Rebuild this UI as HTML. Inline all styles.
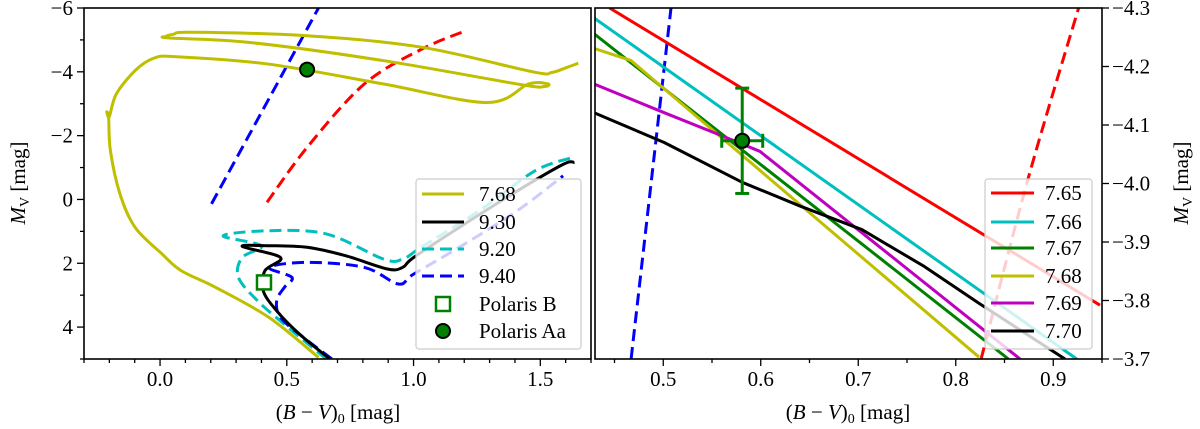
<!DOCTYPE html>
<html><head><meta charset="utf-8"><style>
body{margin:0;background:#fff;}
svg{display:block;}
svg text{font-family:"Liberation Serif","DejaVu Serif",serif;}
</style></head><body>
<svg id="fig" width="1200" height="429" viewBox="0 0 1200 429" xmlns="http://www.w3.org/2000/svg" font-family="Liberation Serif, serif">
<defs>
<clipPath id="clipL"><rect x="84" y="8" width="507" height="351"/></clipPath>
<clipPath id="clipR"><rect x="595" y="8" width="507" height="351"/></clipPath>
</defs>
<g id="left"></g>
<g id="right"></g>
</svg>
<script>
// ---------- Left panel data ----------
const trackYellowBV = [0.625,0.43,0.22,0.083,0.008,-0.098,-0.158,-0.196,-0.203,-0.21,-0.2,-0.173,-0.098,-0.023,0.068,0.43,0.88,1.29,1.454,1.53,1.515,1.424,0.882,0.354,0.038,0.023,0.053,0.128,0.58,1.032,1.47,1.545,1.605,1.65];
const trackYellowMV = [4.95,3.7,2.76,2.23,1.71,0.88,-0.17,-1.53,-2.57,-2.75,-2.6,-3.3,-4.04,-4.43,-4.47,-4.24,-3.62,-3.04,-3.62,-3.62,-3.54,-3.6,-4.35,-4.92,-5.06,-5.11,-5.18,-5.24,-5.13,-4.77,-4.0,-3.98,-4.14,-4.27];
const iso930BV = [0.67,0.55,0.46,0.407,0.414,0.475,0.324,0.43,0.58,0.73,0.897,0.957,1.0,1.18,1.41,1.59,1.635];
const iso930MV = [5.0,4.22,3.49,2.86,2.23,1.82,1.47,1.45,1.5,1.76,2.18,2.13,1.82,0.88,-0.27,-1.1,-1.16];
const iso920BV = [0.656,0.49,0.384,0.309,0.324,0.40,0.249,0.43,0.656,0.882,0.957,1.03,1.26,1.48,1.63];
const iso920MV = [5.0,3.91,3.17,2.44,1.82,1.45,1.14,0.98,1.08,1.87,1.87,1.5,0.35,-0.9,-1.32];
const iso940BV = [0.678,0.565,0.475,0.46,0.49,0.52,0.43,0.58,0.806,0.94,1.0,1.18,1.41,1.59];
const iso940MV = [5.0,4.32,3.7,3.17,2.76,2.44,2.13,1.97,2.13,2.65,2.34,1.5,0.35,-0.74];
const isBlueBV = [0.203,0.625];
const isBlueMV = [0.14,-6.0];
const isRedBV = [0.422,0.58,0.806,1.032,1.2];
const isRedMV = [0.09,-1.63,-3.62,-4.71,-5.27];
const polarisB = [0.41,2.6];
const polarisAa = [0.58,-4.07];
const leftXTicks = [0.0,0.5,1.0,1.5];
const leftXTickLabels = ["0.0","0.5","1.0","1.5"];
const leftYTicks = [-6,-4,-2,0,2,4];
const leftYTickLabels = ["\u22126","\u22124","\u22122","0","2","4"];
// ---------- Right panel data ----------
const r765BV=[0.445,0.948], r765MV=[-4.3,-3.792];
const r766BV=[0.429,0.924], r766MV=[-4.283,-3.7];
const r767BV=[0.429,0.854], r767MV=[-4.256,-3.7];
const r768BV=[0.429,0.467,0.824], r768MV=[-4.231,-4.21,-3.703];
const r769BV=[0.429,0.501,0.561,0.599,0.866], r769MV=[-4.17,-4.121,-4.081,-4.055,-3.7];
const r770BV=[0.429,0.501,0.581,0.641,0.704,0.768,0.824,0.912], r770MV=[-4.121,-4.07,-4.002,-3.961,-3.921,-3.858,-3.795,-3.7];
const rBlueBV=[0.467,0.508], rBlueMV=[-3.7,-4.3];
const rRedBV=[0.826,0.874,0.926], rRedMV=[-3.7,-4.007,-4.3];
const aaPoint=[0.581,-4.073], aaErr=[0.021,0.09];
const rightXTicks=[0.5,0.6,0.7,0.8,0.9];
const rightXTickLabels=["0.5","0.6","0.7","0.8","0.9"];
const rightYTicks=[-4.3,-4.2,-4.1,-4.0,-3.9,-3.8,-3.7];
const rightYTickLabels=["\u22124.3","\u22124.2","\u22124.1","\u22124.0","\u22123.9","\u22123.8","\u22123.7"];

const NS="http://www.w3.org/2000/svg";
const FF='"Liberation Serif", serif';
function mk(parent,tag,attrs){const e=document.createElementNS(NS,tag);for(const k in attrs)e.setAttribute(k,attrs[k]);parent.appendChild(e);return e;}
function scale(d0,d1,p0,p1){return v=>p0+(v-d0)/(d1-d0)*(p1-p0);}

const L={x:scale(-0.3,1.7,84,591),y:scale(-6,5,8,359)};
const R={x:scale(0.43,0.95,595,1102),y:scale(-4.3,-3.7,8,359)};

function pathD(S,xs,ys,smooth){
  const P=xs.map((v,i)=>[S.x(v),S.y(ys[i])]);
  if(!smooth||P.length<3) return P.map((p,i)=>(i?'L':'M')+p[0].toFixed(1)+' '+p[1].toFixed(1)).join('');
  let d='M'+P[0][0].toFixed(1)+' '+P[0][1].toFixed(1);
  for(let i=0;i<P.length-1;i++){
    const p0=P[Math.max(0,i-1)],p1=P[i],p2=P[i+1],p3=P[Math.min(P.length-1,i+2)];
    const c1=[p1[0]+(p2[0]-p0[0])/6,p1[1]+(p2[1]-p0[1])/6];
    const c2=[p2[0]-(p3[0]-p1[0])/6,p2[1]-(p3[1]-p1[1])/6];
    d+='C'+c1[0].toFixed(1)+' '+c1[1].toFixed(1)+' '+c2[0].toFixed(1)+' '+c2[1].toFixed(1)+' '+p2[0].toFixed(1)+' '+p2[1].toFixed(1);
  }
  return d;
}
function line(g,S,xs,ys,color,dash,name,clip,smooth){
  const p=mk(g,'path',{d:pathD(S,xs,ys,smooth),fill:'none',stroke:color,'stroke-width':3,'stroke-linejoin':'round','clip-path':'url(#'+clip+')'});
  if(dash)p.setAttribute('stroke-dasharray','12 6');
  
  
  return p;
}
function text(g,x,y,s,anchor,name,size){const t=mk(g,'text',{x:x,y:y,'font-size':size||21,'text-anchor':anchor||'middle','font-family':FF});t.textContent=s;return t;}

// ---------- Left panel ----------
const gl=document.getElementById('left');
line(gl,L,isBlueBV,isBlueMV,'#0000ff',true,'instability-strip-blue-edge','clipL');
line(gl,L,isRedBV,isRedMV,'#ff0000',true,'instability-strip-red-edge','clipL',true);
line(gl,L,trackYellowBV,trackYellowMV,'#bfbf00',false,'track-7.68','clipL',true);
line(gl,L,iso920BV,iso920MV,'#00bfbf',true,'isochrone-9.20','clipL',true);
line(gl,L,iso940BV,iso940MV,'#0000ff',true,'isochrone-9.40','clipL',true);
line(gl,L,iso930BV,iso930MV,'#000000',false,'isochrone-9.30','clipL',true);
let sq=mk(gl,'rect',{x:L.x(polarisB[0])-7,y:L.y(polarisB[1])-7,width:14,height:14,fill:'#fff',stroke:'#008000','stroke-width':2.5});

let ci=mk(gl,'circle',{cx:L.x(polarisAa[0]),cy:L.y(polarisAa[1]),r:7,fill:'#008000',stroke:'#000','stroke-width':2});

let fr=mk(gl,'rect',{x:84,y:8,width:507,height:351,fill:'none',stroke:'#000','stroke-width':1.6});

for(let k=-3;k<=17;k++){const v=k/10;const x=L.x(v);const maj=(k%5===0);mk(gl,'line',{x1:x,x2:x,y1:359,y2:359+(maj?7:4),stroke:'#000','stroke-width':1.3});}
leftXTicks.forEach((v,i)=>text(gl,L.x(v),386,leftXTickLabels[i],'middle','left-x-tick-label'));
for(let v=-6;v<=5;v+=1){const y=L.y(v);const maj=(v%2===0);mk(gl,'line',{x1:84,x2:84-(maj?7:4),y1:y,y2:y,stroke:'#000','stroke-width':1.3});}
leftYTicks.forEach((v,i)=>text(gl,73,L.y(v)+7,leftYTickLabels[i],'end','left-y-tick-label'));
function xTitle(g,cx,name){
  const t=text(g,cx,419,'','middle',name,21);
  const a=mk(t,'tspan',{});a.textContent='(';
  const b=mk(t,'tspan',{'font-style':'italic'});b.textContent='B';
  const c=mk(t,'tspan',{});c.textContent=' \u2212 ';
  const d=mk(t,'tspan',{'font-style':'italic'});d.textContent='V';
  const e=mk(t,'tspan',{});e.textContent=')';
  const f=mk(t,'tspan',{'font-size':14,dy:4});f.textContent='0';
  const h=mk(t,'tspan',{dy:-4});h.textContent=' [mag]';
}
xTitle(gl,338,'left-x-axis-title');
function yTitle(g,x,name){
  const t=text(g,0,0,'','middle',name,21);
  const a=mk(t,'tspan',{'font-style':'italic'});a.textContent='M';
  const b=mk(t,'tspan',{'font-size':14,dy:4});b.textContent='V';
  const c=mk(t,'tspan',{dy:-4});c.textContent=' [mag]';
  t.setAttribute('transform','translate('+x+',183) rotate(-90)');
}
yTitle(gl,25,'left-y-axis-title');
const lg=mk(gl,'g',{});
mk(lg,'rect',{x:416,y:179,width:165,height:170,rx:3,fill:'rgba(255,255,255,0.8)',stroke:'#ccc','stroke-width':1.2});
const lgItems=[['7.68','#bfbf00',false],['9.30','#000',false],['9.20','#00bfbf',true],['9.40','#0000ff',true]];
const lgY=[194,222,249,276,304,331];
lgItems.forEach((it,i)=>{const l=mk(lg,'line',{x1:422,x2:464,y1:lgY[i],y2:lgY[i],stroke:it[1],'stroke-width':3});if(it[2])l.setAttribute('stroke-dasharray','12 6');
 
 text(lg,479,lgY[i]+7,it[0],'start','legend-entry-label');});
mk(lg,'rect',{x:436,y:297,width:14,height:14,fill:'#fff',stroke:'#008000','stroke-width':2.5});
text(lg,479,lgY[4]+7,'Polaris B','start','legend-entry-label');
mk(lg,'circle',{cx:443,cy:lgY[5],r:7,fill:'#008000',stroke:'#000','stroke-width':2});
text(lg,479,lgY[5]+7,'Polaris Aa','start','legend-entry-label');

// ---------- Right panel ----------
const gr=document.getElementById('right');
line(gr,R,rBlueBV,rBlueMV,'#0000ff',true,'instability-strip-blue-edge-zoom','clipR');
line(gr,R,rRedBV,rRedMV,'#ff0000',true,'instability-strip-red-edge-zoom','clipR',true);
line(gr,R,r765BV,r765MV,'#ff0000',false,'track-7.65','clipR');
line(gr,R,r766BV,r766MV,'#00bfbf',false,'track-7.66','clipR');
line(gr,R,r767BV,r767MV,'#008000',false,'track-7.67','clipR');
line(gr,R,r768BV,r768MV,'#bfbf00',false,'track-7.68-zoom','clipR');
line(gr,R,r769BV,r769MV,'#bf00bf',false,'track-7.69','clipR');
line(gr,R,r770BV,r770MV,'#000000',false,'track-7.70','clipR');
const eb=mk(gr,'g',{stroke:'#008000','stroke-width':3});
const px=R.x(aaPoint[0]),py=R.y(aaPoint[1]);
const xa=R.x(aaPoint[0]-aaErr[0]),xb=R.x(aaPoint[0]+aaErr[0]),ya=R.y(aaPoint[1]-aaErr[1]),yb=R.y(aaPoint[1]+aaErr[1]);
mk(eb,'line',{x1:xa,x2:xb,y1:py,y2:py});mk(eb,'line',{x1:px,x2:px,y1:ya,y2:yb});
mk(eb,'line',{x1:px-7,x2:px+7,y1:ya,y2:ya});mk(eb,'line',{x1:px-7,x2:px+7,y1:yb,y2:yb});
mk(eb,'line',{x1:xa,x2:xa,y1:py-7,y2:py+7});mk(eb,'line',{x1:xb,x2:xb,y1:py-7,y2:py+7});
let c2=mk(gr,'circle',{cx:px,cy:py,r:7,fill:'#008000',stroke:'#000','stroke-width':2});

let fr2=mk(gr,'rect',{x:595,y:8,width:507,height:351,fill:'none',stroke:'#000','stroke-width':1.6});

for(let k=9;k<=19;k++){const v=k*0.05;if(v<0.43)continue;const x=R.x(v);const maj=(k%2===0);mk(gr,'line',{x1:x,x2:x,y1:359,y2:359+(maj?7:4),stroke:'#000','stroke-width':1.3});}
rightXTicks.forEach((v,i)=>text(gr,R.x(v),386,rightXTickLabels[i],'middle','right-x-tick-label'));
rightYTicks.forEach((v,i)=>{const y=R.y(v);mk(gr,'line',{x1:1102,x2:1109,y1:y,y2:y,stroke:'#000','stroke-width':1.3});text(gr,1112,y+7,rightYTickLabels[i],'start','right-y-tick-label');});
xTitle(gr,848,'right-x-axis-title');
yTitle(gr,1188,'right-y-axis-title');
const rg=mk(gr,'g',{});
mk(rg,'rect',{x:985,y:179,width:107,height:170,rx:3,fill:'rgba(255,255,255,0.8)',stroke:'#ccc','stroke-width':1.2});
const rgItems=[['7.65','#ff0000'],['7.66','#00bfbf'],['7.67','#008000'],['7.68','#bfbf00'],['7.69','#bf00bf'],['7.70','#000']];
const rgY=[193,222,248,276,303,331];
rgItems.forEach((it,i)=>{const l=mk(rg,'line',{x1:991,x2:1034,y1:rgY[i],y2:rgY[i],stroke:it[1],'stroke-width':3});
 
 text(rg,1045,rgY[i]+7,it[0],'start','legend-entry-label');});
</script>
</body></html>
